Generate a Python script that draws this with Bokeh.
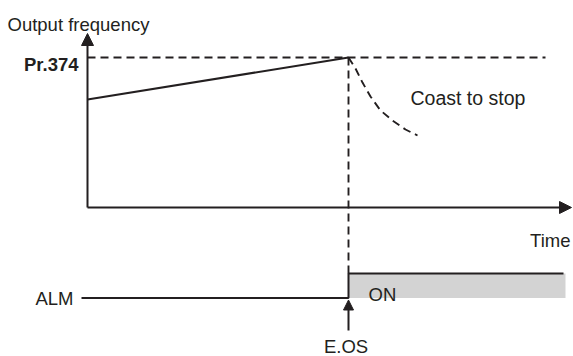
from bokeh.plotting import figure
from bokeh.models import Range1d, Arrow, NormalHead
from bokeh.core.properties import value
from bokeh.embed import file_html
from bokeh.resources import INLINE

# ---------------- data (diagram units) ----------------
# time in arbitrary units, frequency in % of Pr.374, ALM as logic state
ramp_time = [0.0, 5.22]
ramp_freq = [72.0, 100.0]
coast_time = [5.22, 5.36, 5.50, 5.66, 5.86, 6.10, 6.36, 6.60]
coast_freq = [100.0, 92.7, 83.3, 74.0, 64.7, 58.0, 52.0, 48.0]
pr374_level = 100.0
trip_time = 5.22
alm_time = [-0.12, 5.22, 5.22, 9.52]
alm_state = [0, 0, 1, 1]
on_start, on_end = 5.22, 9.56
labels_axis = ["Output frequency", "Time"]
label_level = "Pr.374"
label_coast = "Coast to stop"
label_alm = "ALM"
label_on = "ON"
label_trip = "E.OS"

# ---------------- layout ----------------
W, H = 573, 356
OX, OY = 87, 207          # screen position of origin
PX_T, PX_F = 50.0, 1.5    # pixels per time unit / per % frequency
ALM0, PX_A = 297.5, 24.5  # screen y of ALM low level / pixels per state
LEFT, TOP = 0, 0

def tx(px):
    return (px - OX) / PX_T

def fy(py):
    return (OY - py) / PX_F

def ay(py):
    return (ALM0 - py) / PX_A

INK = "#231f20"
FONT = value("Liberation Sans")
FS = value("18.5px")

p = figure(width=W, height=H, output_backend="svg", toolbar_location=None,
           x_range=Range1d(tx(LEFT), tx(LEFT + W)),
           y_range=Range1d(fy(TOP + H), fy(TOP)),
           x_axis_type=None, y_axis_type=None, min_border=0)
p.extra_y_ranges = {"alm": Range1d(ay(TOP + H), ay(TOP))}
p.outline_line_color = None
p.background_fill_color = "white"
p.border_fill_color = "white"

# ON region
p.quad(left=[on_start], right=[on_end], bottom=[0], top=[1], y_range_name="alm",
       fill_color="#d3d3d3", line_color=None)

# axes with arrows
p.add_layout(Arrow(end=NormalHead(size=12, fill_color=INK, line_color=INK, line_width=1),
                   x_start=0, y_start=0, x_end=0, y_end=fy(33),
                   line_color=INK, line_width=2))
p.add_layout(Arrow(end=NormalHead(size=12, fill_color=INK, line_color=INK, line_width=1),
                   x_start=0, y_start=0, x_end=tx(571), y_end=0,
                   line_color=INK, line_width=2))

# Pr.374 level dashed
p.line([0, tx(545)], [pr374_level, pr374_level], line_color=INK, line_width=1.9,
       line_dash="8 5")
# ramp
p.line(ramp_time, ramp_freq, line_color=INK, line_width=2)
# coast
p.line(coast_time, coast_freq, line_color=INK, line_width=1.9, line_dash="8 5")
# vertical trip dashed line
p.line([trip_time, trip_time], [pr374_level, fy(ALM0 - PX_A)], line_color=INK,
       line_width=1.9, line_dash="8 5")

# ALM signal
p.line(alm_time, alm_state, y_range_name="alm", line_color=INK, line_width=2)

# E.OS arrow
p.add_layout(Arrow(end=NormalHead(size=10, fill_color=INK, line_color=INK, line_width=1),
                   x_start=trip_time, y_start=ay(330), x_end=trip_time, y_end=ay(299.5),
                   y_range_name="alm", line_color=INK, line_width=2))

# texts
def txt(x, y, s, align="left", bold=False, rng="default", size=FS):
    p.text(x=[x], y=[y], text=[s], text_font=FONT, text_font_size=size,
           text_align=align, text_baseline="alphabetic", text_color=INK,
           text_font_style="bold" if bold else "normal", y_range_name=rng)

txt(tx(7), fy(24), labels_axis[0])
txt(tx(78), fy(64), label_level, align="right", bold=True)
txt(tx(410), fy(97), label_coast, size=value("19.5px"))
txt(tx(570), fy(240), labels_axis[1], align="right")
txt(tx(73), ay(298), label_alm, align="right", rng="alm")
txt(tx(368), ay(294), label_on, rng="alm")
txt(trip_time - 0.05, ay(345.5), label_trip, align="center", rng="alm")

open("out.html", "w").write(file_html(p, INLINE))
